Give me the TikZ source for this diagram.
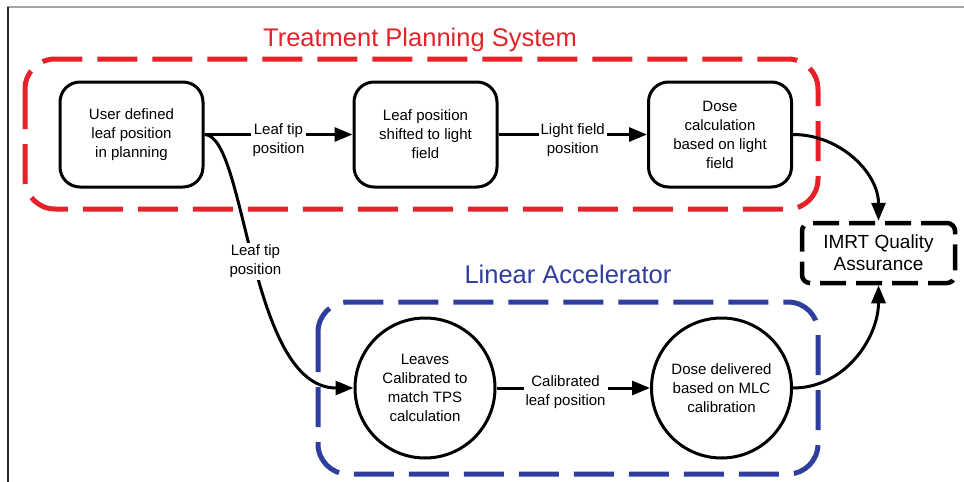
\documentclass[tikz,border=0pt]{standalone}
\usepackage{fontspec}
\setmainfont{Liberation Sans}
\usetikzlibrary{arrows.meta}
\definecolor{tpsred}{HTML}{E52229}
\definecolor{linacblue}{HTML}{2F3E9E}
\begin{document}
\begin{tikzpicture}[x=1pt,y=-1pt,
  boxtext/.style={font=\fontsize{15}{19}\selectfont, align=center},
  stepbox/.style={boxtext, draw, line width=3pt, rounded corners=20pt, minimum width=143pt, minimum height=105pt, inner sep=0pt},
  stepcirc/.style={boxtext, draw, circle, line width=3pt, minimum size=140pt, inner sep=0pt},
  qabox/.style={draw, line width=4.5pt, dash pattern=on 26pt off 10pt, rounded corners=8pt, minimum width=153pt, minimum height=60pt, inner sep=0pt, align=center, font=\fontsize{19}{22}\selectfont},
  groupbox/.style={line width=5pt, rounded corners=30pt, dash pattern=on 40pt off 15pt},
  grouptitle/.style={font=\fontsize{25.5}{28}\selectfont, anchor=base},
  flow/.style={line width=3pt, -{Triangle[length=18pt,width=14pt]}},
  flowlabel/.style={boxtext, fill=white, inner sep=2pt}
]
\useasboundingbox (0,0) rectangle (964,482);
% frame lines
\draw[gray!70, line width=2pt] (7,7) -- (964,7);
\draw[black!85, line width=1.5pt] (8,7) -- (8,482);

% group boxes
\draw[groupbox, tpsred] (25,59) rectangle (818,209);
\draw[groupbox, linacblue] (318,302) rectangle (818,474);
\node[grouptitle, text=tpsred] (tpstitle) at (420,46) {Treatment Planning System};
\node[grouptitle, text=linacblue] (linactitle) at (568,283) {Linear Accelerator};

% nodes
\node[stepbox] (b1) at (131.5,134.5) {User defined\\leaf position\\in planning};
\node[stepbox] (b2) at (425.5,134.5) {Leaf position\\shifted to light\\field};
\node[stepbox] (b3) at (720,134.5) {Dose\\calculation\\based on light\\field};
\node[stepcirc] (c1) at (425,388) {Leaves\\Calibrated to\\match TPS\\calculation};
\node[stepcirc] (c2) at (721.5,388) {Dose delivered\\based on MLC\\calibration};
\node[qabox] (qa) at (878.5,253) {IMRT Quality\\Assurance};

% connectors
\draw[flow] (b1.east) -- node[flowlabel, yshift=-6pt] (l1) {Leaf tip\\position} (b2.west);
\draw[flow] (b2.east) -- node[flowlabel, yshift=-6pt] (l2) {Light field\\position} (b3.west);
\draw[flow] (c1.east) -- node[flowlabel, pos=0.45, yshift=-4pt] (l3) {Calibrated\\leaf position} (c2.west);
\draw[flow] (b1.east) .. controls +(42,0) and +(-105,0) .. node[flowlabel, pos=0.5] (l4) {Leaf tip\\position} (c1.west);
\draw[flow] (b3.east) to[out=0, in=90] (qa.north);
\draw[flow] (c2.east) to[out=0, in=-90] (qa.south);
\end{tikzpicture}
\end{document}
